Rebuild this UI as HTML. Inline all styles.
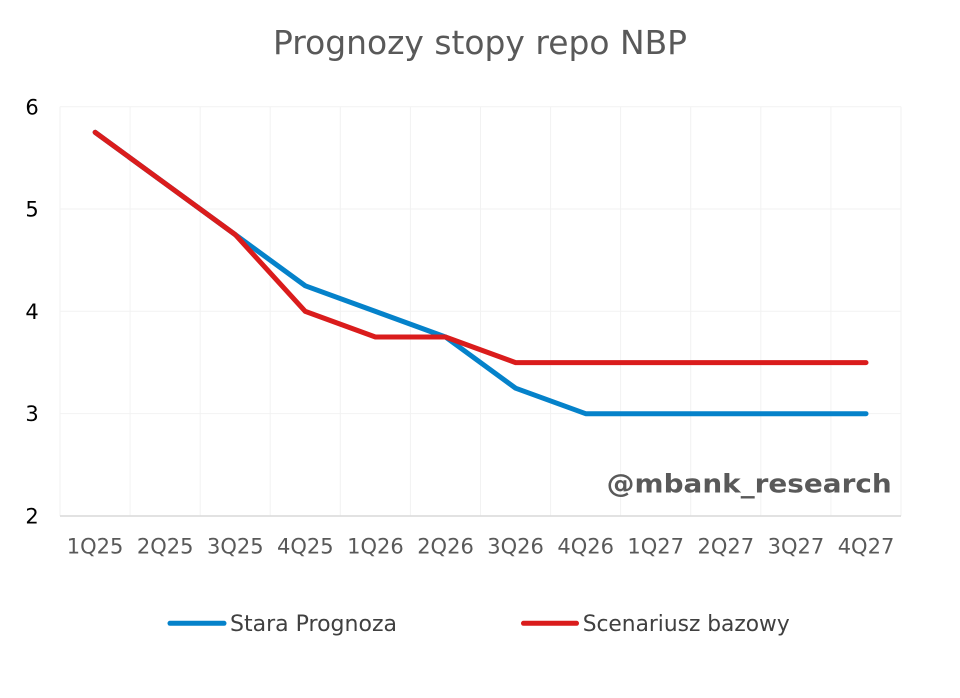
<!DOCTYPE html>
<html>
<head>
<meta charset="utf-8">
<style>
  html, body { margin: 0; padding: 0; background: #ffffff; }
  svg { display: block; }
  text { font-family: "DejaVu Sans", "Liberation Sans", sans-serif; }
</style>
</head>
<body>
<svg width="960" height="698" viewBox="0 0 960 698" xmlns="http://www.w3.org/2000/svg">
  <rect width="960" height="698" fill="#ffffff"/>

  <!-- Title -->
  <text x="480" y="54" font-size="33" fill="#595959" text-anchor="middle" textLength="414" lengthAdjust="spacingAndGlyphs">Prognozy stopy repo NBP</text>

  <!-- Horizontal gridlines -->
  <g stroke="#f2f2f2" stroke-width="1">
    <line x1="60" y1="106.7" x2="901" y2="106.7"/>
    <line x1="60" y1="209" x2="901" y2="209"/>
    <line x1="60" y1="311.3" x2="901" y2="311.3"/>
    <line x1="60" y1="413.6" x2="901" y2="413.6"/>
  </g>
  <!-- Vertical gridlines -->
  <g stroke="#f2f2f2" stroke-width="1">
    <line x1="60" y1="106.7" x2="60" y2="516"/>
    <line x1="130.1" y1="106.7" x2="130.1" y2="516"/>
    <line x1="200.2" y1="106.7" x2="200.2" y2="516"/>
    <line x1="270.2" y1="106.7" x2="270.2" y2="516"/>
    <line x1="340.3" y1="106.7" x2="340.3" y2="516"/>
    <line x1="410.4" y1="106.7" x2="410.4" y2="516"/>
    <line x1="480.5" y1="106.7" x2="480.5" y2="516"/>
    <line x1="550.6" y1="106.7" x2="550.6" y2="516"/>
    <line x1="620.6" y1="106.7" x2="620.6" y2="516"/>
    <line x1="690.7" y1="106.7" x2="690.7" y2="516"/>
    <line x1="760.8" y1="106.7" x2="760.8" y2="516"/>
    <line x1="830.9" y1="106.7" x2="830.9" y2="516"/>
    <line x1="901" y1="106.7" x2="901" y2="516"/>
  </g>
  <!-- X axis line -->
  <line x1="60" y1="516" x2="901" y2="516" stroke="#d9d9d9" stroke-width="1.5"/>

  <!-- Y labels -->
  <g font-size="21" fill="#000000" text-anchor="middle">
    <text x="32" y="114.3">6</text>
    <text x="32" y="216.6">5</text>
    <text x="32" y="318.9">4</text>
    <text x="32" y="421.2">3</text>
    <text x="32" y="523.5">2</text>
  </g>

  <!-- X labels -->
  <g font-size="21" fill="#595959" text-anchor="middle">
    <text x="95.1" y="553.3">1Q25</text>
    <text x="165.2" y="553.3">2Q25</text>
    <text x="235.3" y="553.3">3Q25</text>
    <text x="305.3" y="553.3">4Q25</text>
    <text x="375.4" y="553.3">1Q26</text>
    <text x="445.5" y="553.3">2Q26</text>
    <text x="515.6" y="553.3">3Q26</text>
    <text x="585.7" y="553.3">4Q26</text>
    <text x="655.7" y="553.3">1Q27</text>
    <text x="725.8" y="553.3">2Q27</text>
    <text x="795.9" y="553.3">3Q27</text>
    <text x="866" y="553.3">4Q27</text>
  </g>

  <!-- Watermark -->
  <text x="891.7" y="492.7" font-size="26" font-weight="bold" fill="#595959" text-anchor="end" textLength="285" lengthAdjust="spacingAndGlyphs">@mbank_research</text>

  <!-- Blue series: Stara Prognoza -->
  <polyline fill="none" stroke="#0582CA" stroke-width="5" stroke-linejoin="round" stroke-linecap="round"
    points="95.1,132.3 165.2,183.5 235.3,234.7 305.3,285.8 375.4,311.4 445.5,337 515.6,388.2 585.7,413.7 655.7,413.7 725.8,413.7 795.9,413.7 866,413.7"/>

  <!-- Red series: Scenariusz bazowy -->
  <polyline fill="none" stroke="#DA1C1C" stroke-width="5" stroke-linejoin="round" stroke-linecap="round"
    points="95.1,132.3 165.2,183.5 235.3,234.7 305.3,311.4 375.4,337 445.5,337 515.6,362.6 585.7,362.6 655.7,362.6 725.8,362.6 795.9,362.6 866,362.6"/>

  <!-- Legend -->
  <line x1="170" y1="623.3" x2="224" y2="623.3" stroke="#0582CA" stroke-width="5" stroke-linecap="round"/>
  <text x="230" y="631" font-size="22" fill="#404040" textLength="167" lengthAdjust="spacingAndGlyphs">Stara Prognoza</text>
  <line x1="523.5" y1="623.3" x2="576.5" y2="623.3" stroke="#DA1C1C" stroke-width="5" stroke-linecap="round"/>
  <text x="582.7" y="631" font-size="22" fill="#404040" textLength="207" lengthAdjust="spacingAndGlyphs">Scenariusz bazowy</text>
</svg>
</body>
</html>
